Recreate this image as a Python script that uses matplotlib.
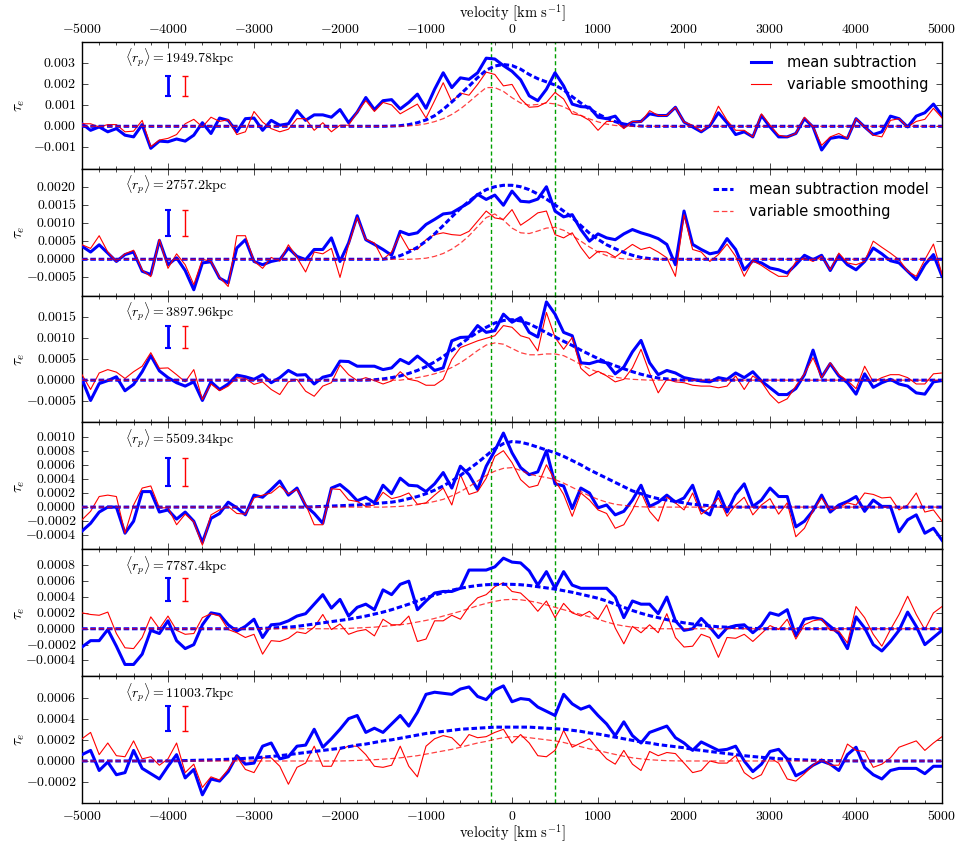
import numpy as np
import matplotlib
matplotlib.use('Agg')
import matplotlib.pyplot as plt
from matplotlib.ticker import MultipleLocator, FuncFormatter

# tau_e in units of 1e-4, sampled every 100 km/s from -5000 to 5000
blue1 = [1.2, -1.9, -0.3, -2.6, -1.1, -4.2, -5.0, 0.8, -10.4, -7.0,
         -7.3, -6.0, -7.0, -4.2, 1.7, -3.4, 3.9, 2.8, -2.6, 3.6,
         3.9, -1.9, 2.8, 0.5, 1.2, 7.4, 2.8, 5.4, 5.4, 4.3,
         7.9, 1.7, 6.7, 13.6, 7.9, 12.1, 12.6, 8.2, 11.3, 15.2,
         8.5, 17.5, 25.3, 18.3, 22.9, 22.2, 25.3, 32.2, 31.8, 28.7,
         26.0, 22.0, 14.4, 12.1, 17.5, 25.3, 19.1, 10.5, 9.3, 9.0,
         4.3, 3.6, 4.8, -0.3, 2.0, 2.3, 5.9, 5.1, 5.1, 9.0,
         2.0, -0.3, -2.6, 0.2, 6.4, 1.7, -3.9, -2.6, -5.0, 5.1,
         -0.3, -5.0, -5.0, -3.4, 3.6, -0.3, -11.2, -5.7, -5.0, -5.7,
         3.6, -0.3, -3.9, -2.6, 4.8, 3.6, -0.3, 4.8, 6.4, 10.5,
         5.1]
red1 = [1.2, 1.2, -0.3, 0.8, 0.8, -2.6, -2.3, 2.8, -9.6, -6.5,
        -5.7, -3.9, 1.2, 3.3, -0.3, 4.3, 2.3, 3.1, -3.9, -2.6,
        7.0, 2.0, -1.1, -2.6, -1.4, 3.6, 3.6, -1.9, 1.7, -2.6,
        0.5, 0.5, 6.7, 12.1, 7.0, 11.3, 10.1, 5.9, 8.2, 10.5,
        3.9, 12.1, 20.6, 11.6, 15.7, 14.7, 19.8, 25.6, 24.5, 19.1,
        19.8, 13.0, 9.0, 9.3, 11.3, 16.0, 12.9, 5.9, 5.1, 2.8,
        -1.9, 2.3, 2.3, -1.1, 2.3, 2.0, 7.4, 5.1, 5.1, 9.0,
        2.0, 0.5, -2.3, 0.5, 9.5, 2.8, -1.9, -1.9, -5.0, 5.9,
        0.5, -4.2, -5.0, -3.4, 4.3, -0.3, -9.0, -5.0, -3.4, -5.7,
        3.6, -0.3, -4.2, -5.0, 2.8, 3.6, -0.3, 2.3, 3.3, 8.5,
        3.9]
blue2 = [3.6, 2.0, 4.0, 1.7, -0.6, 1.3, 2.0, -3.3, -4.2, 5.2,
         -1.5, 0.4, -3.1, -8.4, -1.0, -0.7, -5.2, -6.5, 3.1, 5.4,
         -0.6, -1.5, -0.6, -0.1, 3.1, 0.8, -0.1, 2.7, 2.7, 5.9,
         -0.6, 4.5, 12.0, 5.4, 4.1, 2.7, 1.1, 7.7, 6.8, 7.3,
         9.6, 11.0, 12.5, 12.8, 14.2, 15.6, 17.9, 16.5, 17.7, 14.9,
         18.8, 16.0, 15.8, 16.6, 20.0, 13.3, 11.7, 12.3, 8.2, 5.0,
         7.0, 5.9, 5.4, 7.0, 8.2, 7.3, 6.6, 5.7, 4.1, -1.5,
         13.3, 4.1, 2.7, 1.5, 2.0, 5.7, 2.7, -2.9, -0.4, -1.0,
         -2.4, -2.9, -3.8, -1.5, 1.1, -0.1, 1.1, -3.1, 1.1, -1.5,
         -2.9, -0.6, 3.1, 1.5, -0.4, -1.0, -3.3, -5.6, -1.5, 1.3,
         -4.7]
red2 = [4.0, 3.0, 6.5, 2.0, -0.6, 1.5, 2.5, -3.0, -4.8, 5.5,
        -2.5, 1.5, -1.5, -7.0, 0.0, -0.6, -5.0, -7.5, 6.5, 6.5,
        -0.5, -2.5, 0.5, -0.5, 4.0, 0.5, -3.5, 2.0, 1.5, 3.0,
        -5.0, 4.0, 11.5, 5.5, 4.5, 0.0, 2.0, 6.8, 2.7, 2.7,
        5.4, 6.8, 7.3, 6.8, 6.6, 7.7, 10.5, 13.3, 11.4, 11.0,
        13.7, 9.4, 11.0, 12.8, 13.3, 6.8, 5.9, 7.3, 3.3, 0.2,
        2.2, 2.0, 0.6, 2.4, 4.1, 2.7, 3.3, 2.0, 0.4, -4.7,
        12.3, 2.7, 2.0, -0.6, 1.3, 4.2, 0.8, -4.7, -0.4, -1.7,
        -3.3, -4.7, -4.7, -0.7, 0.4, -0.6, 0.8, -2.9, 1.7, -1.0,
        -1.5, -0.6, 5.0, 3.3, 1.7, -0.1, -3.3, -4.7, -0.1, 4.2,
        -4.2]
blue3 = [0.2, -4.8, -0.8, -0.1, 0.8, -2.5, -1.0, 2.0, 5.8, 2.2,
         0.6, -0.6, -1.4, -0.4, -4.8, -0.4, -2.2, -0.9, 1.2, 0.8,
         0.2, 1.3, -0.6, 0.6, 2.3, 1.2, 1.3, -0.9, 0.7, 1.2,
         4.5, 4.4, 3.3, 3.3, 3.3, 2.5, 2.9, 4.9, 3.9, 5.7,
         4.1, 2.3, 2.9, 9.3, 10.1, 10.2, 12.9, 11.3, 11.7, 15.6,
         13.7, 14.8, 11.3, 10.2, 18.5, 15.6, 11.3, 10.5, 4.1, 3.9,
         4.5, 4.1, 1.5, 3.1, 6.7, 9.4, 4.1, 1.3, 2.3, 1.7,
         0.6, 0.2, -0.2, -0.4, 0.6, 0.2, 1.7, 0.6, 2.0, -0.2,
         -1.8, -3.4, -3.4, -2.0, 1.3, 7.1, 0.7, 3.9, 1.0, -0.6,
         -3.3, 1.5, -1.7, -0.6, 0.2, -0.9, -1.4, -3.0, -3.3, -0.4,
         -0.1]
red3 = [1.3, -2.2, 1.7, 2.5, 1.9, 0.4, 2.0, 3.3, 6.5, 2.8,
        2.9, 1.3, -0.4, 2.5, -4.6, -0.9, -2.5, -1.4, 0.6, 0.4,
        -1.0, -0.4, -2.2, -3.4, -0.4, 0.2, -2.6, -3.8, -1.4, -0.6,
        3.6, 1.3, -0.1, 0.6, -0.1, -0.9, -0.2, 2.0, 0.2, -0.2,
        -1.2, -1.2, 0.2, 4.9, 7.7, 8.5, 9.3, 9.9, 10.5, 12.9,
        12.5, 10.5, 9.9, 6.9, 16.0, 10.1, 7.3, 10.1, 2.8, 1.0,
        2.1, 1.0, -0.4, 0.2, 2.9, 7.3, 1.7, -3.0, 0.2, -0.4,
        -0.6, -1.2, -1.4, -1.4, -1.8, -1.4, 1.0, -2.2, 1.0, -0.4,
        -3.4, -5.4, -4.4, -1.4, 1.5, 5.3, 0.6, 4.1, 1.3, -0.1,
        -2.0, 3.3, -0.4, 0.6, 1.3, 1.3, 0.6, -0.9, -0.9, 1.5,
        1.7]
blue4 = [-3.4, -2.3, -0.7, 0.0, 0.0, -3.7, -2.0, 2.2, 2.2, -0.7,
         -0.4, -1.7, -0.7, -2.0, -5.0, -1.6, -0.9, 0.7, -0.1, -1.1,
         1.7, 1.4, 2.5, 3.7, 1.7, 2.7, 0.2, -0.9, -2.3, 2.7,
         3.2, 2.2, 0.9, 1.4, 0.6, 3.1, 1.9, 4.1, 3.1, 3.0,
         2.2, 3.3, 4.9, 2.7, 5.8, 4.6, 2.5, 5.8, 8.0, 10.5,
         7.7, 5.6, 4.6, 5.0, 8.0, 3.3, 3.0, -0.2, 2.7, 2.0,
         -0.1, 0.3, -1.1, -0.6, 1.0, 3.1, 0.1, 0.7, 1.7, 0.7,
         1.3, 3.1, -0.4, -1.1, 2.2, -0.7, 1.8, 3.3, 0.1, 1.0,
         2.7, 1.5, 1.5, -2.8, -2.0, -0.5, 1.7, -0.7, 0.3, 0.8,
         1.5, -0.6, 1.0, 0.1, 0.1, -3.5, -1.8, -1.1, -3.7, -3.0,
         -4.7]
red4 = [-1.8, -0.6, 1.5, 1.7, 1.5, -3.7, 0.3, 2.7, 3.0, -0.1,
        -0.1, -2.5, -1.0, -2.1, -5.4, -1.1, -0.4, 0.1, -0.9, -1.0,
        1.3, 1.7, 2.0, 3.0, 1.9, 2.5, 0.4, -2.5, -2.5, 2.6,
        2.5, 1.0, 0.8, 0.1, 0.3, 2.1, 1.2, 1.5, 2.0, 0.4,
        0.6, 1.7, 2.7, 0.3, 4.6, 1.8, 2.2, 4.1, 7.2, 8.0,
        6.3, 3.9, 2.8, 3.1, 6.0, 3.8, 1.8, -1.3, 2.0, 1.0,
        -0.4, -0.9, -3.0, -2.5, -0.4, 2.1, -0.6, -2.0, 1.4, 0.6,
        -0.4, 2.0, -1.0, -0.1, 1.3, -1.3, 0.3, 1.4, -1.1, 0.3,
        1.2, -1.0, 0.6, -4.2, -3.0, -0.5, 1.3, -0.4, -0.1, 0.6,
        0.3, 2.0, 1.8, 1.3, 1.4, -0.4, 0.3, 2.0, -0.7, -0.4,
        -2.0]
blue5 = [-2.3, -1.5, -1.5, -0.1, -2.2, -4.5, -4.5, -3.2, -0.2, -0.6,
         1.0, -1.5, -2.5, -2.0, 0.5, 2.0, 1.8, 0.5, -0.3, 0.3,
         1.2, -1.1, 0.5, 0.6, 1.0, 1.6, 1.9, 3.1, 4.3, 2.6,
         3.7, 1.6, 2.7, 3.1, 2.4, 4.9, 4.3, 5.6, 6.0, 2.4,
         3.5, 4.5, 4.7, 4.7, 5.1, 7.4, 7.4, 7.4, 7.8, 8.9,
         8.4, 8.3, 7.3, 5.5, 7.2, 5.1, 7.2, 5.5, 5.1, 5.1,
         5.1, 5.1, 4.0, 1.4, 3.5, 3.1, 3.1, 1.9, 4.0, 1.0,
         -0.2, 0.0, 1.3, 0.2, -1.1, 0.1, 0.4, 0.5, -0.5, 0.4,
         2.0, 1.7, 2.4, -0.9, 1.2, 1.4, 1.2, 0.3, -0.6, -2.5,
         1.5, 0.1, -2.0, -2.8, -1.6, -0.2, 2.1, 0.3, -2.0, -1.1,
         -0.2]
red5 = [2.0, 1.8, 1.7, 2.1, -0.6, -2.4, -2.5, -1.1, 1.5, 0.0,
        1.6, -0.2, -0.7, -0.6, 1.4, 1.9, 1.6, -0.1, -0.5, -1.1,
        -0.7, -3.2, -1.5, -1.6, -1.2, -0.4, -0.6, 0.2, 1.8, -0.1,
        0.6, -0.7, -0.3, -0.1, -0.9, 1.2, 0.5, 0.5, 1.6, -1.6,
        -1.3, 1.0, 1.0, 1.7, 1.2, 2.8, 3.9, 4.3, 5.3, 5.8,
        4.7, 4.5, 3.5, 2.2, 3.5, 1.4, 3.2, 2.0, 1.6, 2.2,
        1.2, 3.0, 0.1, -1.9, 0.3, -0.5, 0.5, -0.5, 1.9, -1.1,
        -2.3, -2.2, -0.7, -1.1, -3.6, -1.1, -1.2, -0.7, -1.6, -0.6,
        0.4, -0.1, 1.2, -1.3, 0.5, 1.0, 1.2, -0.2, -0.3, -1.8,
        2.8, 1.4, -0.7, -2.2, -0.1, 1.8, 4.1, 1.8, -0.1, 2.0,
        2.8]
blue6 = [0.6, 1.0, -0.9, -0.1, -1.3, -1.1, 1.0, -0.7, -1.2, -1.7,
         -0.5, 0.6, -1.6, -0.8, -3.2, -1.7, -1.9, -1.0, 0.5, -0.3,
         -0.2, 1.4, 1.7, 0.2, 0.4, 1.4, 1.5, 3.0, 1.3, 2.1,
         3.0, 4.0, 4.3, 2.7, 3.1, 2.7, 3.5, 4.3, 3.3, 4.6,
         6.3, 6.5, 6.4, 6.3, 6.8, 7.0, 6.1, 5.8, 6.7, 7.1,
         5.6, 5.9, 5.8, 5.1, 4.7, 4.3, 6.3, 5.4, 4.9, 5.2,
         4.3, 3.5, 2.4, 3.7, 2.4, 1.7, 2.7, 3.0, 3.3, 2.2,
         1.7, 1.0, 1.8, 1.4, 1.0, 1.1, 1.4, 0.0, -1.0, -0.3,
         0.9, 1.1, 0.2, -1.4, -1.0, -0.4, 0.0, -0.3, -0.9, 0.6,
         1.3, -0.6, -1.3, -1.7, -0.9, -0.7, -0.7, -0.7, -1.2, -0.5,
         -0.5]
red6 = [2.1, 2.7, 0.6, 1.7, 0.5, 0.4, 1.9, 0.2, 0.4, -0.4,
        0.2, 1.7, -1.1, -0.3, -2.5, -1.5, -1.8, -0.8, 0.4, -0.8,
        -1.1, 0.3, 0.3, -0.5, -2.2, -0.6, -0.2, 1.4, -0.5, -0.5,
        1.1, 1.4, 1.4, 0.6, -0.5, -0.6, -0.4, 1.4, -0.5, -1.5,
        1.4, 2.1, 2.4, 2.2, 1.4, 2.5, 2.2, 2.3, 2.7, 3.0,
        1.7, 2.5, 1.7, 0.5, 0.4, 1.0, 2.9, 1.3, 1.7, 2.1,
        1.1, 0.2, -0.3, 1.0, -0.3, -0.9, 0.9, 0.5, 0.8, 0.7,
        -0.2, -1.1, -0.9, 0.0, -0.2, -0.2, 0.5, -1.1, -1.7, -1.3,
        0.3, -0.2, -1.7, -1.9, -1.2, -0.4, 0.2, -0.4, -0.4, 1.6,
        1.0, 0.9, -0.6, -0.3, 0.3, 1.3, 1.6, 1.9, 1.0, 1.7,
        2.3]

# model curves (units 1e-4), 100 km/s steps starting at *_v0, zero outside
mblue1_v0 = -1500
mblue1 = [0, 0.1, 0.3, 0.8, 1.7, 3.0, 5.0, 8.0, 11.5, 15.2, 19.0, 23.0, 26.5, 28.5, 29.2,
          28.7, 27.0, 24.5, 22.5, 21.0, 19.5, 17.2, 14.0, 11.0, 8.2, 5.8, 3.8, 2.2, 1.1, 0.4, 0.1, 0]
mred1_v0 = -1300
mred1 = [0, 0.2, 0.5, 1.2, 2.2, 3.6, 5.6, 8.2, 11.5, 15.0, 18.3, 18.3, 16.5,
         13.5, 11.0, 10.0, 10.3, 11.0, 10.6, 9.2, 7.2, 5.2, 3.5, 2.1, 1.0, 0.4, 0.1, 0]
mblue2_v0 = -1500
mblue2 = [0, 0.3, 1.0, 2.0, 3.3, 5.0, 7.0, 9.3, 11.7, 14.0, 16.0, 17.8, 19.2, 20.0, 20.4,
          20.4, 20.0, 19.2, 18.0, 16.6, 15.0, 13.3, 11.5, 9.3, 7.2, 5.5, 4.0, 2.9, 1.9, 1.1, 0.5, 0.2, 0]
mred2_v0 = -1200
mred2 = [0, 0.1, 0.3, 0.8, 1.6, 2.8, 4.4, 6.5, 9.0, 11.5, 12.5, 10.8,
         8.6, 7.3, 7.1, 7.8, 8.6, 8.8, 8.0, 6.6, 5.0, 3.4, 2.0, 1.0, 0.4, 0.1, 0]
mblue3_v0 = -1700
mblue3 = [0, 0.1, 0.3, 0.6, 1.0, 1.6, 2.3, 3.2, 4.3, 5.6, 7.0, 8.5, 10.0, 11.3, 12.5, 13.5, 14.1,
          14.3, 14.0, 13.3, 12.3, 11.2, 10.2, 9.2, 8.2, 7.1, 6.1, 5.1, 4.2, 3.4, 2.7, 2.0, 1.4,
          0.9, 0.5, 0.3, 0.1, 0]
mred3_v0 = -1300
mred3 = [0, 0.3, 0.6, 1.0, 1.5, 2.1, 3.0, 4.1, 5.5, 7.0, 8.3, 8.8, 8.5,
         7.5, 6.5, 6.0, 6.0, 6.2, 6.2, 5.8, 4.8, 3.7, 2.7, 1.9, 1.2, 0.7, 0.4, 0.2, 0.1, 0]
mblue4_v0 = -2400
mblue4 = [0, 0.05, 0.1, 0.15, 0.2, 0.25, 0.3, 0.4, 0.5, 0.6, 0.7, 0.9, 1.2, 1.5, 1.9, 2.4,
          3.0, 3.7, 4.5, 5.4, 6.3, 7.3, 8.3, 9.0,
          9.3, 9.2, 8.9, 8.5, 8.1, 7.7, 7.2, 6.6, 6.0, 5.3, 4.7, 4.1, 3.5, 2.9, 2.3, 1.9,
          1.5, 1.2, 1.0, 0.8, 0.6, 0.4, 0.3, 0.2, 0.1, 0.05, 0]
mred4_v0 = -1500
mred4 = [0, 0.05, 0.1, 0.2, 0.35, 0.55, 0.8, 1.1, 1.6, 2.2, 2.9, 3.7, 4.5, 5.1, 5.5,
         5.6, 5.2, 4.7, 4.4, 4.2, 3.9, 3.4, 2.8, 2.2, 1.6, 1.1, 0.7, 0.4, 0.25, 0.1, 0.05, 0]
mblue5_v0 = -3000
mblue5 = [0, 0.05, 0.1, 0.15, 0.2, 0.3, 0.45, 0.6, 0.75, 0.9, 1.05, 1.2, 1.4, 1.6, 1.85,
          2.1, 2.4, 2.75, 3.1, 3.5, 3.9, 4.25, 4.55, 4.85, 5.1, 5.3, 5.45, 5.55, 5.6, 5.6,
          5.6, 5.55, 5.45, 5.3, 5.15, 5.0, 4.8, 4.6, 4.35, 4.1, 3.85, 3.5, 3.1, 2.7, 2.3,
          1.95, 1.65, 1.4, 1.15, 0.95, 0.75, 0.6, 0.45, 0.35, 0.25, 0.2, 0.15, 0.1, 0.05, 0]
mred5_v0 = -2000
mred5 = [0, 0.05, 0.1, 0.15, 0.2, 0.3, 0.4, 0.5, 0.65, 0.85, 1.05, 1.3, 1.6, 1.9, 2.2,
         2.55, 2.9, 3.2, 3.45, 3.65, 3.7, 3.65, 3.5, 3.3, 3.0, 2.7, 2.4, 2.1, 1.8, 1.5,
         1.2, 0.85, 0.55, 0.35, 0.2, 0.1, 0.05, 0]
mblue6_v0 = -4000
mblue6 = [0, 0.02, 0.04, 0.06, 0.08, 0.1, 0.13, 0.16, 0.2, 0.25, 0.3, 0.36, 0.43, 0.5,
          0.6, 0.7, 0.8, 0.9, 1.0, 1.1, 1.2, 1.35, 1.5, 1.6, 1.75, 1.9, 2.0, 2.15, 2.3,
          2.45, 2.6, 2.7, 2.8, 2.9, 3.0, 3.05, 3.1, 3.15, 3.2, 3.2, 3.2, 3.2, 3.2, 3.15,
          3.1, 3.05, 3.0, 2.9, 2.8, 2.65, 2.55, 2.4, 2.25, 2.1, 1.95, 1.8, 1.7, 1.55, 1.45,
          1.35, 1.25, 1.1, 1.0, 0.9, 0.8, 0.7, 0.6, 0.5, 0.42, 0.35, 0.28, 0.22, 0.17,
          0.13, 0.1, 0.07, 0.05, 0.03, 0.02, 0.01, 0]
mred6_v0 = -2000
mred6 = [0, 0.02, 0.05, 0.08, 0.12, 0.17, 0.23, 0.3, 0.4, 0.5, 0.65, 0.8, 0.95, 1.1,
         1.3, 1.5, 1.7, 1.85, 2.05, 2.2, 2.3, 2.3, 2.2, 2.1, 2.0, 1.9, 1.75, 1.55, 1.35,
         1.15, 1.0, 0.8, 0.62, 0.45, 0.3, 0.2, 0.12, 0.07, 0.03, 0.01, 0]

blues = [blue1, blue2, blue3, blue4, blue5, blue6]
reds = [red1, red2, red3, red4, red5, red6]
mblues = [(mblue1_v0, mblue1), (mblue2_v0, mblue2), (mblue3_v0, mblue3),
          (mblue4_v0, mblue4), (mblue5_v0, mblue5), (mblue6_v0, mblue6)]
mreds = [(mred1_v0, mred1), (mred2_v0, mred2), (mred3_v0, mred3),
         (mred4_v0, mred4), (mred5_v0, mred5), (mred6_v0, mred6)]

rp_labels = ['1949.78', '2757.2', '3897.96', '5509.34', '7787.4', '11003.7']
err_center = [0.0019, 0.00101, 0.00102, 0.0005, 0.0005, 0.0004]
err_half = [0.00048, 0.00036, 0.00027, 0.0002, 0.000146, 0.000116]
ylims = [(-0.002, 0.004), (-0.001, 0.0025), (-0.001, 0.002),
         (-0.0006, 0.0012), (-0.0006, 0.001), (-0.0004, 0.0008)]
ysteps = [0.001, 0.0005, 0.0005, 0.0002, 0.0002, 0.0002]
ydecs = [3, 4, 4, 4, 4, 4]
peaks = [-250, 500]

plt.style.use('classic')
plt.rcParams['mathtext.fontset'] = 'cm'
plt.rcParams['figure.facecolor'] = 'white'
plt.rcParams['savefig.facecolor'] = 'white'
plt.rcParams['lines.scale_dashes'] = False


def model_xy(v0, vals):
    v = v0 + 100 * np.arange(len(vals))
    x = np.concatenate([[-5000], v, [5000]])
    y = np.concatenate([[0], vals, [0]]) * 1e-4
    return x, y


def yfmt(dec):
    return FuncFormatter(lambda y, p: r'$%.*f$' % (dec, round(y, dec) + 0.0))


fig, axes = plt.subplots(6, 1, sharex=True, figsize=(9.6, 8.47))
fig.subplots_adjust(left=0.0854, right=0.9813, top=0.9508, bottom=0.0516, hspace=0)

for i, ax in enumerate(axes):
    b = np.array(blues[i]) * 1e-4
    r = np.array(reds[i]) * 1e-4
    ax.plot(np.linspace(-5000, 5000, len(b)), b, color='b', lw=2.2,
            label='mean subtraction', zorder=3)
    ax.plot(np.linspace(-5000, 5000, len(r)), r, color='r', lw=0.8,
            label='variable smoothing', zorder=4)
    mx, my = model_xy(*mblues[i])
    ax.plot(mx, my, color='b', lw=2.2, ls='--', dashes=(4, 2),
            label='mean subtraction model', zorder=5)
    mx, my = model_xy(*mreds[i])
    ax.plot(mx, my, color='r', lw=0.9, ls='--', dashes=(4, 2), alpha=0.75,
            label='variable smoothing', zorder=6)
    for p in peaks:
        ax.axvline(p, color='#00a000', lw=1, ls='--', dashes=(3, 2), zorder=2)

    ax.errorbar([-4000], [err_center[i]], yerr=[err_half[i]], color='b',
                elinewidth=2, capsize=2, capthick=1.5, fmt='none', zorder=5)
    ax.errorbar([-3800], [err_center[i]], yerr=[err_half[i]], color='r',
                elinewidth=1, capsize=2, capthick=1, fmt='none', zorder=5)
    ax.text(0.05, 0.875, r'$\langle r_p\rangle = \mathrm{%skpc}$' % rp_labels[i],
            transform=ax.transAxes, fontsize=10, va='center', ha='left')

    lo, hi = ylims[i]
    st = ysteps[i]
    ax.set_ylim(lo, hi)
    ax.set_yticks(np.arange(lo + st, hi - st * 0.5, st))
    ax.yaxis.set_major_formatter(yfmt(ydecs[i]))
    ax.set_ylabel(r'$\tau_e$', fontsize=11)
    ax.yaxis.set_label_coords(-0.064, 0.5)

    ax.set_xlim(-5000, 5000)
    ax.xaxis.set_major_locator(MultipleLocator(1000))
    ax.xaxis.set_minor_locator(MultipleLocator(200))
    ax.xaxis.set_major_formatter(FuncFormatter(lambda x, p: r'$%d$' % x))
    ax.tick_params(which='both', direction='in', top=True, right=True, labelsize=10)
    ax.tick_params(which='major', length=4)
    ax.tick_params(which='minor', length=2)
    ax.tick_params(axis='x', labelbottom=False)

axes[0].tick_params(axis='x', labeltop=True)
axes[0].xaxis.set_label_position('top')
axes[0].set_xlabel(r'$\mathrm{velocity\ [km\ s^{-1}]}$', fontsize=10.5, labelpad=3)
axes[-1].tick_params(axis='x', labelbottom=True)
axes[-1].set_xlabel(r'$\mathrm{velocity\ [km\ s^{-1}]}$', fontsize=10.5, labelpad=0)

h, l = axes[0].get_legend_handles_labels()
axes[0].legend(h[:2], l[:2], loc='upper right', frameon=False, fontsize=10.5)
h, l = axes[1].get_legend_handles_labels()
axes[1].legend(h[2:], l[2:], loc='upper right', frameon=False, fontsize=10.5)

plt.savefig('out.png', dpi=100)
